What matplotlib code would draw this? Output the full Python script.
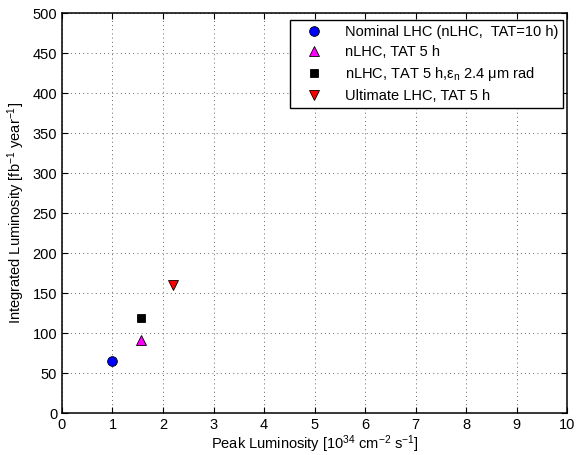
import matplotlib.pyplot as plt

plt.rcParams['font.family'] = ['Liberation Sans', 'DejaVu Sans']
plt.rcParams['mathtext.fontset'] = 'custom'
plt.rcParams['mathtext.rm'] = 'Liberation Sans'
plt.rcParams['mathtext.it'] = 'Liberation Sans:italic'

# data
labels = ['Nominal LHC (nLHC,  TAT=10 h)', 'nLHC, TAT 5 h',
          'nLHC, TAT 5 h,ε$_{\\mathrm{n}}$ 2.4 μm rad', 'Ultimate LHC, TAT 5 h']
peak_lumi = [1.0, 1.57, 1.57, 2.2]
int_lumi = [66, 92, 119, 160]
markers = ['o', '^', 's', 'v']
sizes = [7, 7, 6, 7]
colors = ['blue', 'magenta', 'black', 'red']

fig = plt.figure(figsize=(5.81, 4.55), dpi=100)
ax = fig.add_axes([0.1067, 0.0916, 0.8693, 0.8792])

for x, y, m, ms, c, lab in zip(peak_lumi, int_lumi, markers, sizes, colors, labels):
    ax.plot([x], [y], linestyle='none', marker=m, markersize=ms, markerfacecolor=c,
            markeredgecolor='black', markeredgewidth=0.6, label=lab)

ax.set_xlim(0, 10)
ax.set_ylim(0, 500)
ax.set_xticks(range(0, 11))
ax.set_yticks(range(0, 501, 50))
ax.grid(True, color='#333333', linestyle=(0, (1, 4)), linewidth=0.6)
ax.tick_params(direction='in', top=True, right=True, labelsize=10.5,
               length=4, width=0.8)
for s in ax.spines.values():
    s.set_linewidth(1.1)

ax.set_xlabel(r'Peak Luminosity [10$^{34}$ cm$^{-2}$ s$^{-1}$]', fontsize=10.5,
              labelpad=1)
ax.set_ylabel(r'Integrated Luminosity [fb$^{-1}$ year$^{-1}$]', fontsize=10.5)

leg = ax.legend(loc='upper right', bbox_to_anchor=(0.992, 0.983), fontsize=10.5,
                fancybox=False, framealpha=1, edgecolor='black',
                handletextpad=0.8, borderpad=0.35, labelspacing=0.4,
                handlelength=2.6, borderaxespad=0)
leg.get_frame().set_linewidth(1.0)

fig.savefig('out.png', dpi=100)
